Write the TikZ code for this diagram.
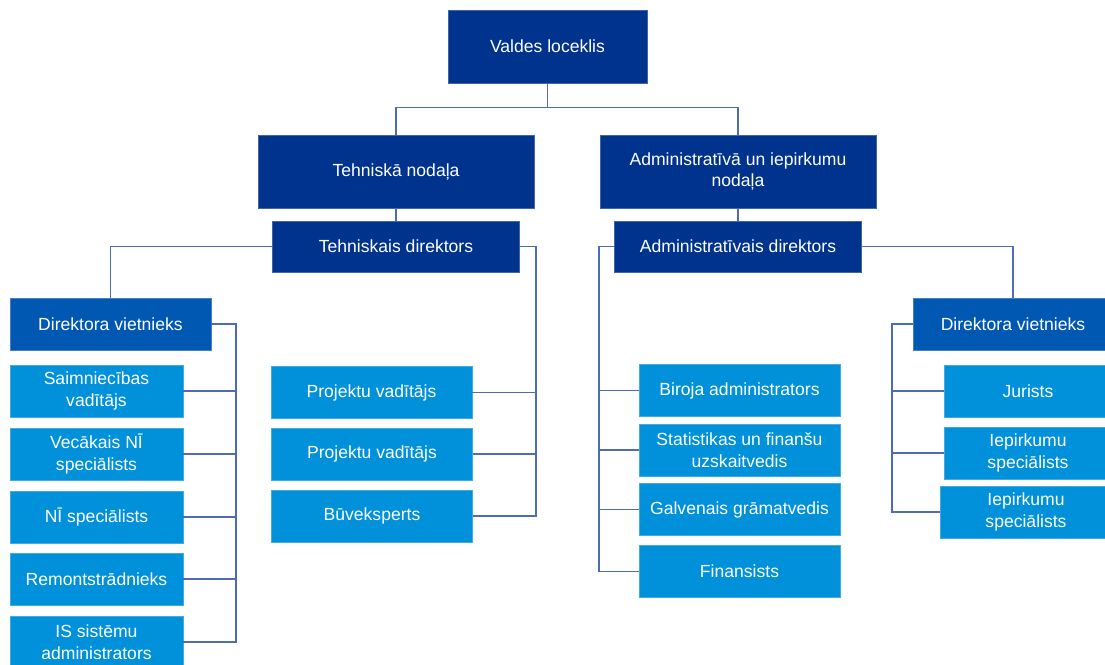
\documentclass[tikz,border=0pt]{standalone}
\usepackage{fontspec}
\setmainfont{Liberation Sans}
\definecolor{kdark}{RGB}{0,51,141}
\definecolor{kmid}{RGB}{0,88,178}
\definecolor{klight}{RGB}{0,145,218}
\definecolor{kline}{RGB}{78,108,178}
\tikzset{
  unit/.style n args={3}{rectangle, inner sep=0pt, align=center, text=white,
    font=\fontsize{10}{12.4}\selectfont, fill=#1, draw=#1!75!white, line width=0.4pt,
    minimum width=#2*0.02cm, minimum height=#3*0.02cm},
  headbox/.style={unit={kdark}{199}{73}},
  deptbox/.style={unit={kdark}{276}{73}},
  dirbox/.style={unit={kdark}{247}{51}},
  deputybox/.style={unit={kmid}{#1}{52}},
  staffbox/.style={unit={klight}{#1}{52}},
  link/.style={draw=kline, line width=0.8pt}
}
\begin{document}
\begin{tikzpicture}[x=0.02cm, y=-0.02cm]
    \useasboundingbox (0,0) rectangle (1105,664);
    % top levels
    \node[headbox] (vald) at (547.5,46.5) {Valdes loceklis};
    \node[deptbox] (tehn) at (396,171.5) {Tehniskā nodaļa};
    \node[deptbox] (adm) at (738,171.5) {Administratīvā un iepirkumu\\nodaļa};
    \node[dirbox] (tdir) at (396,246.5) {Tehniskais direktors};
    \node[dirbox] (adir) at (738,246.5) {Administratīvais direktors};
    \node[deputybox=201] (ldep) at (110.5,324) {Direktora vietnieks};
    \node[deputybox=200] (rdep) at (1013,324) {Direktora vietnieks};
    % left column
    \node[staffbox=173] (saim) at (96.5,391) {Saimniecības\\vadītājs};
    \node[staffbox=173] (vec) at (96.5,454) {Vecākais NĪ\\speciālists};
    \node[staffbox=173] (nis) at (96.5,517) {NĪ speciālists};
    \node[staffbox=173] (rem) at (96.5,579) {Remontstrādnieks};
    \node[staffbox=173] (iss) at (96.5,642) {IS sistēmu\\administrators};
    % projects
    \node[staffbox=201] (proj1) at (371.5,392.5) {Projektu vadītājs};
    \node[staffbox=201] (proj2) at (372,454) {Projektu vadītājs};
    \node[staffbox=201] (buv) at (372,516) {Būveksperts};
    % administration
    \node[staffbox=201] (bir) at (739.5,390.5) {Biroja administrators};
    \node[staffbox=201] (stat) at (739.5,450) {Statistikas un finanšu\\uzskaitvedis};
    \node[staffbox=201] (galv) at (739.5,509.5) {Galvenais grāmatvedis};
    \node[staffbox=201] (fin) at (739.5,571.5) {Finansists};
    % right column
    \node[staffbox=168] (jur) at (1028,391) {Jurists};
    \node[staffbox=168] (iep1) at (1028,453) {Iepirkumu\\speciālists};
    \node[staffbox=172] (iep2) at (1026,512) {Iepirkumu\\speciālists};
    % connectors
    \coordinate (tb) at (536,246.5);
    \coordinate (lb) at (236,324);
    \coordinate (ab) at (599,246.5);
    \coordinate (rb) at (892,324);
    \draw[link] (vald.south) -- ++(0,24) -| (tehn.north);
    \draw[link] (vald.south) -- ++(0,24) -| (adm.north);
    \draw[link] (tehn.south) -- (tdir.north);
    \draw[link] (adm.south) -- (adir.north);
    \draw[link] (tdir.west) -| (ldep.north);
    \draw[link] (adir.east) -| (rdep.north);
    \draw[link] (tdir.east) -- (tb) |- (buv.east);
    \draw[link] (ldep.east) -- (lb) |- (iss.east);
    \draw[link] (adir.west) -- (ab) |- (fin.west);
    \draw[link] (rdep.west) -- (rb) |- (iep2.west);
    \foreach \n in {proj1,proj2}
        \draw[link] (\n.east) -- (\n.east -| tb);
    \foreach \n in {saim,vec,nis,rem}
        \draw[link] (\n.east) -- (\n.east -| lb);
    \foreach \n in {bir,stat,galv}
        \draw[link] (\n.west) -- (\n.west -| ab);
    \foreach \n in {jur,iep1}
        \draw[link] (\n.west) -- (\n.west -| rb);
\end{tikzpicture}
\end{document}
